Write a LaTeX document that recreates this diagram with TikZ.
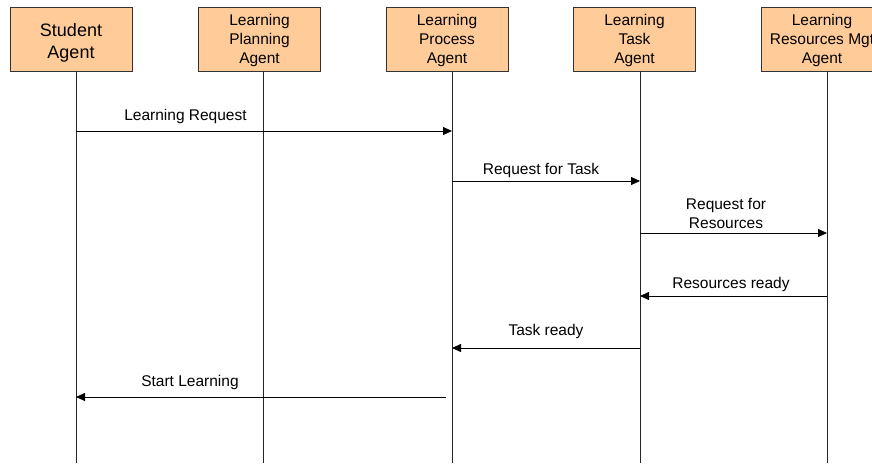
\documentclass[tikz,border=0pt]{standalone}
\usepackage{fontspec}
\setmainfont{Liberation Sans}
\usetikzlibrary{arrows.meta}
\definecolor{agentfill}{HTML}{FFCC99}
\definecolor{agentline}{HTML}{333333}
\tikzset{
  agent/.style={draw=agentline, line width=0.9pt, fill=agentfill,
    minimum width=122pt, minimum height=64pt, inner sep=0pt},
  agenttext/.style={align=center, inner sep=0pt, yshift=-1.5pt,
    font=\fontsize{15.5}{19}\selectfont},
  bigagenttext/.style={agenttext, yshift=-2pt, font=\fontsize{18}{22}\selectfont},
  lifeline/.style={line width=0.8pt, black!85},
  msg/.style={line width=0.8pt, -{Triangle[length=9pt,width=8pt]}},
  msglabel/.style={font=\fontsize{15.5}{19}\selectfont, align=center, inner sep=0pt}
}
\begin{document}
\begin{tikzpicture}[x=1pt,y=-1pt]
  \useasboundingbox (0,0) rectangle (872,463);
  \clip (0,0) rectangle (872,463);

  % agent boxes
  \node[agent] (sa)  at (71,39)    {};
  \node[agent] (lpa) at (259.5,39) {};
  \node[agent] (lpr) at (447,39)   {};
  \node[agent] (lta) at (634.5,39) {};
  \node[agent] (lrm) at (822,39)   {};
  \node[bigagenttext] (sat)  at (sa)  {Student\\Agent};
  \node[agenttext]    (lpat) at (lpa) {Learning\\Planning\\Agent};
  \node[agenttext]    (lprt) at (lpr) {Learning\\Process\\Agent};
  \node[agenttext]    (ltat) at (lta) {Learning\\Task\\Agent};
  \node[agenttext]    (lrmt) at (lrm) {Learning\\Resources Mgt\\Agent};

  % lifelines
  \foreach \n/\x in {1/76, 2/263, 3/452, 4/640, 5/827} {
    \coordinate (top\n) at (\x,71);
    \coordinate (bot\n) at (\x,463);
    \draw[lifeline] (top\n) -- (bot\n);
  }

  % message end points
  \coordinate (m1a) at (76,131);  \coordinate (m1b) at (452,131);
  \coordinate (m2a) at (452,181); \coordinate (m2b) at (640,181);
  \coordinate (m3a) at (640,233); \coordinate (m3b) at (827,233);
  \coordinate (m4a) at (827,296); \coordinate (m4b) at (640,296);
  \coordinate (m5a) at (640,348); \coordinate (m5b) at (452,348);
  \coordinate (m6a) at (446,397); \coordinate (m6b) at (76,397);

  % messages
  \draw[msg] (m1a) -- (m1b);
  \draw[msg] (m2a) -- (m2b);
  \draw[msg] (m3a) -- (m3b);
  \draw[msg] (m4a) -- (m4b);
  \draw[msg] (m5a) -- (m5b);
  \draw[msg] (m6a) -- (m6b);

  % message labels
  \node[msglabel] (t1) at (185.5,116) {Learning Request};
  \node[msglabel] (t2) at (541,170)   {Request for Task};
  \node[msglabel] (t3) at (726,213)   {Request for\\Resources};
  \node[msglabel] (t4) at (731,284)   {Resources ready};
  \node[msglabel] (t5) at (546,331)   {Task ready};
  \node[msglabel] (t6) at (190,382)   {Start Learning};
\end{tikzpicture}
\end{document}
